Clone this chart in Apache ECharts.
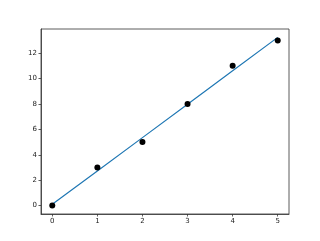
<!DOCTYPE html>
<html><head><meta charset="utf-8">
<script src="https://cdn.jsdelivr.net/npm/echarts@6/dist/echarts.min.js"></script>
<style>html,body{margin:0;padding:0;background:#fff}#c{width:320px;height:241px}</style>
</head><body><div id="c"></div>
<script>
const xValues = [0, 1, 2, 3, 4, 5];
const yPoints = [0, 3, 5, 8, 11, 13];
const fitLine = [0.1, 2.72, 5.35, 7.98, 10.61, 13.24];
const xTicks = [0, 1, 2, 3, 4, 5];
const yTicks = [0, 2, 4, 6, 8, 10, 12];

const chart = echarts.init(document.getElementById('c'));
const lbl = {fontFamily: 'DejaVu Sans', fontSize: 7, color: '#222'};
chart.setOption({
  animation: false,
  grid: {left: 41, right: 31, top: 29, bottom: 27, show: true, borderColor: '#333', borderWidth: 0.8, containLabel: false},
  xAxis: {
    type: 'value', min: -0.25, max: 5.25,
    axisLine: {show: true, onZero: false, lineStyle: {color: '#333', width: 0.8}},
    axisTick: {show: true, length: 2.5, customValues: xTicks, lineStyle: {color: '#333', width: 0.8}},
    axisLabel: Object.assign({margin: 4, customValues: xTicks}, lbl),
    splitLine: {show: false}
  },
  yAxis: {
    type: 'value', min: -0.662, max: 13.9,
    axisLine: {show: true, onZero: false, lineStyle: {color: '#333', width: 0.8}},
    axisTick: {show: true, length: 2.5, customValues: yTicks, lineStyle: {color: '#333', width: 0.8}},
    axisLabel: Object.assign({margin: 4, customValues: yTicks}, lbl),
    splitLine: {show: false}
  },
  series: [
    {type: 'line', data: xValues.map((x, i) => [x, fitLine[i]]), showSymbol: false, symbol: 'none',
     lineStyle: {color: '#1f77b4', width: 1.2}, z: 2},
    {type: 'scatter', data: xValues.map((x, i) => [x, yPoints[i]]), symbolSize: 6,
     itemStyle: {color: '#000', opacity: 1}, z: 3}
  ]
});
</script></body></html>
